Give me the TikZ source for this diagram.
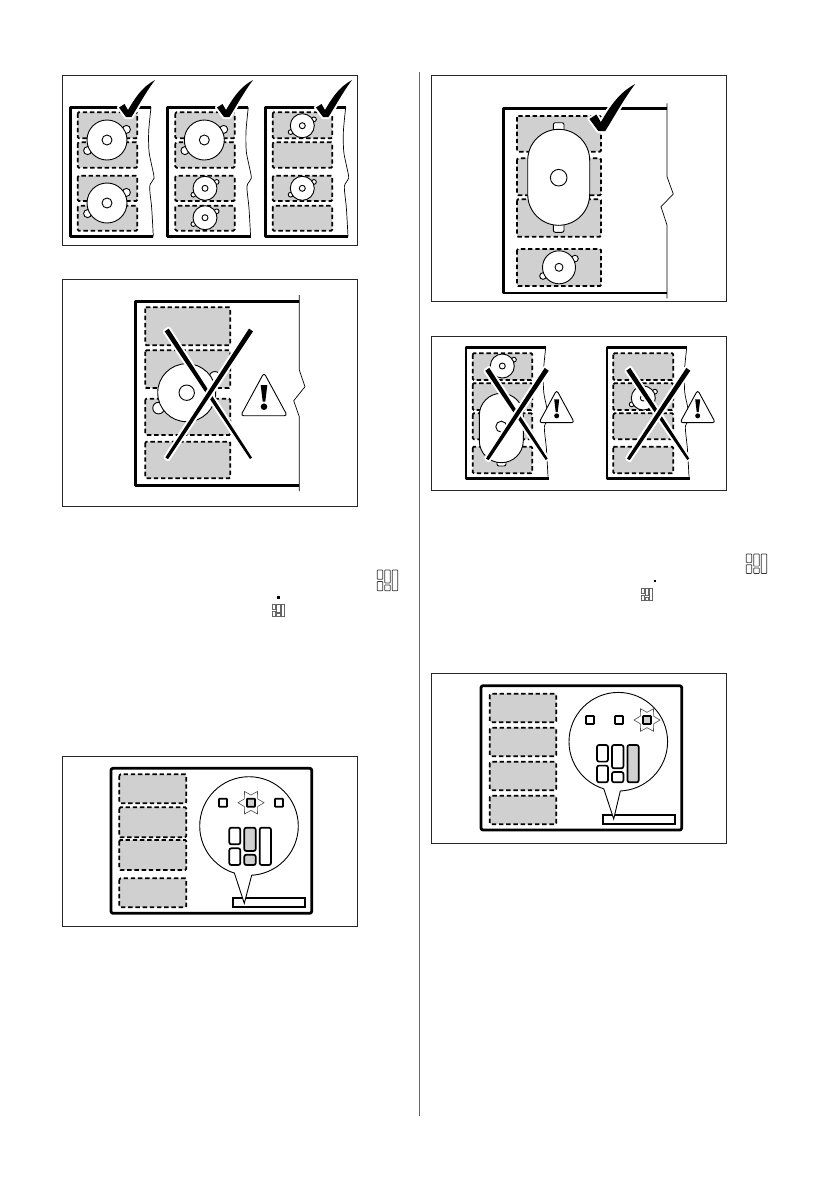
\documentclass[tikz,border=0pt]{standalone}
\usepackage{tikz}
\usetikzlibrary{shapes.geometric}
\definecolor{zonegrey}{RGB}{208,208,208}

\newcommand{\roundpot}[4]{% x, y, radius, hole
  \draw[pot] ({#1+.97*#3},{#2-.53*#3}) circle ({.2*#3});
  \draw[pot] ({#1-.97*#3},{#2+.53*#3}) circle ({.2*#3});
  \draw[pot] (#1,#2) circle (#3);
  \draw[pot] (#1,#2) circle (#4);
}
\newcommand{\tickmark}[3]{% bottom x, y, scale
  \fill[tick, shift={(#1,#2)}, scale=#3] (0,0) -- (-7,-9.5) -- (-1.5,-13) -- (2,-7)
    .. controls (9,-19) and (16,-30) .. (29,-37)
    .. controls (20,-25) and (13,-12) .. (5.5,0) -- cycle;
}
\newcommand{\crossmark}[4]{% left, top, right, bottom
  \coordinate (ca) at (#1,#2);
  \coordinate (cb) at (#3,#4);
  \coordinate (cc) at (#3,#2);
  \coordinate (cd) at (#1,#4);
  \fill[tick] ([shift={(2,-1.4)}]ca) -- ([shift={(-2,1.4)}]ca) -- ([shift={(-1,.7)}]cb) -- ([shift={(1,-.7)}]cb) -- cycle;
  \fill[tick] ([shift={(2,1.4)}]cc) -- ([shift={(-2,-1.4)}]cc) -- ([shift={(-1.3,-.9)}]cd) -- ([shift={(1.3,.9)}]cd) -- cycle;
}
\newcommand{\hazard}[3]{% apex x, y, scale
  \begin{scope}[shift={(#1,#2)}, scale=#3]
    \draw[alert] (0,0) -- (23.3,43) -- (-23.3,43) -- cycle;
    \fill (-3.3,12.3) -- (3.3,12.3) -- (1.3,29) -- (-1.3,29) -- cycle;
    \fill (0,34) circle (3.3);
  \end{scope}
}
\newcommand{\rackicon}[8]{% x, y, xscale, yscale, style, fill mid top, fill mid bottom, fill right
  \begin{scope}[shift={(#1,#2)}, xscale=#3, yscale=#4]
    \draw[#5] (0,0) rectangle (11,16.6);
    \draw[#5] (0,20.6) rectangle (11,37.3);
    \draw[#5, fill=#6] (15,0) rectangle (26.4,23.3);
    \draw[#5, fill=#7] (15,27) rectangle (26.4,37.3);
    \draw[#5, fill=#8] (30.4,0) rectangle (41.7,37.3);
  \end{scope}
}
\newcommand{\wavyedge}[2]{% x, y of the top end
  \draw[edge, shift={(#1,#2)}] plot[smooth] coordinates {(0,0) (-2.3,24) (-2,44) (.7,58) (3,71) (-1.3,79) (.7,101) (2.3,129)};
}

\begin{document}
\begin{tikzpicture}[
    x=.5pt, y=-.5pt,
    frame/.style={draw=black!85, line width=.5pt},
    rim/.style={line width=1.4pt, line join=round},
    edge/.style={line width=.35pt},
    zone/.style={draw, fill=zonegrey, line width=.9pt, dash pattern=on 2.2pt off 1.4pt, rounded corners=.6pt},
    pot/.style={draw, fill=white, line width=.45pt},
    tick/.style={fill=black, preaction={draw=white, line width=2pt, line join=round}},
    alert/.style={draw, fill=white, line width=.45pt, rounded corners=1.5pt},
    lamp/.style={draw, fill=white, line width=.85pt, rounded corners=.3pt},
    burst/.style={star, star points=6, star point ratio=1.7, shape border rotate=30, draw=black!70,
                  line width=.3pt, minimum size=13pt, inner sep=0pt},
    seg/.style={draw, fill=white, line width=.85pt, rounded corners=1pt},
    segsmall/.style={draw=black!80, line width=.35pt, rounded corners=.3pt},
    segtiny/.style={draw=black!60, line width=.3pt}
  ]
  \useasboundingbox (0,0) rectangle (839,1191);

  % column rule
  \draw[black!60, line width=.4pt] (419.7,72) -- (419.7,1116);

  % three hobs with ticks
  \draw[frame] (62.5,75) rectangle (357.7,245.3);
  \foreach \xa/\xb/\xl/\xe in {77.7/137.3/70.7/151, 175.3/234.7/167.7/248.3, 272.7/332.3/265.7/345.7} {
    \foreach \ya/\yb in {112.3/138.3, 142.3/167.7, 175.7/201, 205.7/230.7}
      \draw[zone] (\xa,\ya) rectangle (\xb,\yb);
    \draw[rim] (\xe,107.3) -- (\xl,107.3) -- (\xl,236.3) -- (\xe+2.3,236.3);
    \wavyedge{\xe}{107.3}
  }
  \roundpot{107}{140}{20}{5}
  \roundpot{107}{203}{20}{5}
  \roundpot{204.3}{140}{20}{5}
  \roundpot{205}{188.3}{12}{3}
  \roundpot{205}{217.7}{12}{3}
  \roundpot{302.3}{125.7}{12}{3}
  \roundpot{302.3}{188.3}{12}{3}
  \tickmark{126}{117}{1}
  \tickmark{224}{117}{1}
  \tickmark{323}{117}{1}

  % wrong pot, one hob
  \draw[frame] (62.3,279.3) rectangle (357.7,506.7);
  \foreach \ya/\yb in {307.3/345.3, 350.3/388, 398.7/435, 441.7/478.3}
    \draw[zone] (145.3,\ya) rectangle (230.3,\yb);
  \draw[rim] (299.3,301.3) -- (135.3,301.3) -- (135.3,485.3) -- (299.3,485.3);
  \draw[edge] (299.3,295) -- (299.3,370) -- (305,386.7) -- (293.7,400.7) -- (299.3,416.7) -- (299.3,491);
  \roundpot{186.7}{392.7}{29}{7.7}
  \crossmark{166.7}{330}{251}{458.3}
  \hazard{264}{372.7}{1}

  % text icons, left column
  \rackicon{377.3}{570}{.49}{.555}{segsmall}{white}{white}{white}
  \rackicon{272.3}{604.3}{.29}{.33}{segtiny}{white}{white}{white}
  \fill (277,596) rectangle (279.6,598.6);

  % display, left column
  \draw[frame] (62.3,756) rectangle (357.7,926);
  \draw[rim, rounded corners=1pt] (111,768.3) rectangle (311.7,913.3);
  \foreach \ya/\yb in {774.3/803.3, 807.3/837.3, 840/870, 878.3/907.3}
    \draw[zone] (119.3,\ya) rectangle (186.3,\yb);
  \draw[line width=.85pt] (232.7,897.7) rectangle (305,907);
  \draw[pot] (249,826) circle (49.3);
  \coordinate (baseA) at (234.3,872.8);
  \coordinate (baseB) at (251.7,875.2);
  \coordinate (tipA) at (244.3,903.3);
  \fill[white] (baseA) -- (tipA) -- (baseB) -- (249,860) -- cycle;
  \draw[line width=.45pt] (baseA) -- (tipA) -- (baseB);
  \draw[lamp] (219,798.7) rectangle (227,806.7);
  \node[burst] (flashA) at (251,802.7) {};
  \draw[lamp, fill=zonegrey] (247,798.7) rectangle (255,806.7);
  \draw[lamp] (275,798.7) rectangle (283,806.7);
  \rackicon{229.3}{827.7}{1}{1}{seg}{zonegrey}{zonegrey}{white}

  % oval pot with tick
  \draw[frame] (431.7,75) rectangle (726.7,301);
  \foreach \ya/\yb in {116/151.7, 158.3/195.3, 199.3/236.7, 249/286}
    \draw[zone] (517,\ya) rectangle (601,\yb);
  \draw[rim] (667,108.7) -- (503.3,108.7) -- (503.3,293) -- (667,293);
  \draw[edge] (667,103.3) -- (667,176.7) -- (673.3,194) -- (661,206.7) -- (667,225) -- (667,298.3);
  \draw[pot, rounded corners=1pt] (553.3,122.7) rectangle (564,132);
  \draw[pot, rounded corners=1pt] (553.3,223) rectangle (564,232.3);
  \draw[pot, rounded corners=15.5pt] (527.7,129.3) rectangle (589.7,225.3);
  \draw[pot] (558.7,177.7) circle (8.3);
  \roundpot{559}{267.3}{16.5}{4}
  \tickmark{598.3}{131}{1.27}

  % two wrong hobs
  \draw[frame] (431.7,336.7) rectangle (726.7,490.3);
  \foreach \xa/\xb/\xl/\xe in {472.7/532.3/466/545.7, 613.3/673.3/607/686.7} {
    \foreach \ya/\yb in {353.3/380, 383.3/410, 413.3/439.3, 446.7/473.3}
      \draw[zone] (\xa,\ya) rectangle (\xb,\yb);
    \draw[rim] (\xe,347.7) -- (\xl,347.7) -- (\xl,478.3) -- (\xe+3.3,478.3);
    \wavyedge{\xe}{347.7}
  }
  \roundpot{502.3}{366}{12}{3}
  \draw[pot, rounded corners=1pt] (497,458) rectangle (506,466);
  \draw[pot, rounded corners=11pt] (479.3,393.3) rectangle (523.3,462.7);
  \draw[pot] (501.3,426.7) circle (5.5);
  \roundpot{643.3}{398}{12}{3}
  \crossmark{487.3}{369.3}{546.7}{459.3}
  \crossmark{628.3}{369.3}{688.3}{459.3}
  \hazard{556.7}{390}{.76}
  \hazard{697.7}{390}{.76}

  % text icons, right column
  \rackicon{746.3}{554}{.49}{.52}{segsmall}{white}{white}{white}
  \rackicon{641.3}{588.3}{.275}{.315}{segtiny}{white}{white}{white}
  \fill (654,579.7) rectangle (656,581.7);

  % display, right column
  \draw[frame] (431.7,673.3) rectangle (726.7,843.3);
  \draw[rim, rounded corners=1pt] (481,685.7) rectangle (681.7,830);
  \foreach \ya/\yb in {693.7/722.3, 727.7/756.3, 761.7/790.3, 795.7/824.3}
    \draw[zone] (489.7,\ya) rectangle (556.3,\yb);
  \draw[line width=.85pt] (602.7,814.7) rectangle (675,824);
  \draw[pot] (618.3,741.7) circle (49.3);
  \coordinate (baseC) at (603.7,788.5);
  \coordinate (baseD) at (620.3,791);
  \coordinate (tipB) at (613.7,819);
  \fill[white] (baseC) -- (tipB) -- (baseD) -- (618.3,776) -- cycle;
  \draw[line width=.45pt] (baseC) -- (tipB) -- (baseD);
  \draw[lamp] (586,716) rectangle (594,724);
  \draw[lamp] (615,716) rectangle (623,724);
  \node[burst] (flashB) at (647,720) {};
  \draw[lamp, fill=zonegrey] (643,716) rectangle (651,724);
  \rackicon{597}{745}{1}{1}{seg}{white}{white}{zonegrey}
\end{tikzpicture}
\end{document}
